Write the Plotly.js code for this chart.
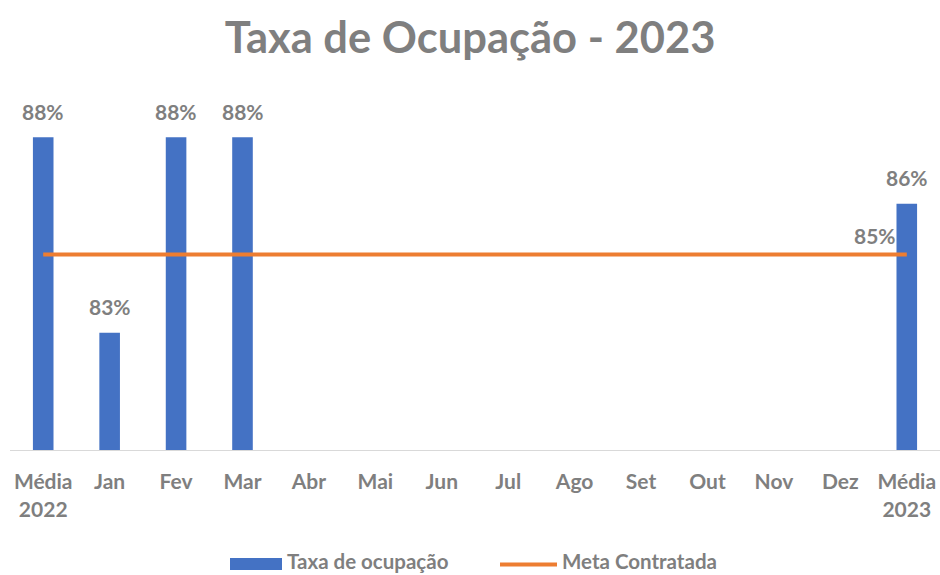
<!DOCTYPE html>
<html>
<head>
<meta charset="utf-8">
<script src="https://cdn.plot.ly/plotly-3.0.1.min.js"></script>
<style>html,body{margin:0;padding:0;background:#fff;}#chart{width:940px;height:575px;}</style>
</head>
<body>
<div id="chart"></div>
<script>
const categories = ['Média<br>2022','Jan','Fev','Mar','Abr','Mai','Jun','Jul','Ago','Set','Out','Nov','Dez','Média<br>2023'];
const taxaOcupacao = [88, 83, 88, 88, null, null, null, null, null, null, null, null, null, 86.3];
const metaContratada = [85, 85, 85, 85, 85, 85, 85, 85, 85, 85, 85, 85, 85, 85];
const seriesNames = ['Taxa de ocupação', 'Meta Contratada'];
const chartTitle = 'Taxa de Ocupação - 2023';

const FONT = 'Lato, "Open Sans", sans-serif';
const GRAY = '#7f7f7f';
const BLUE = '#4472C4';
const ORANGE = '#ED7D31';

// plot area geometry (px) used only to place the hand-drawn legend
const PL = 10, PW = 930, PT = 59, PH = 391;
const px2x = p => (p - PL) / PW;
const px2y = p => (PT + PH - p) / PH;

const annotations = [];
taxaOcupacao.forEach((v, i) => {
  if (v === null) return;
  annotations.push({
    x: categories[i], y: v, xref: 'x', yref: 'y',
    text: Math.round(v) + '%', showarrow: false,
    yanchor: 'middle', yshift: 26,
    font: {family: FONT, size: 21, color: GRAY, weight: 'bold'}
  });
});
const lastIdx = metaContratada.length - 1;
annotations.push({
  x: categories[lastIdx], y: metaContratada[lastIdx], xref: 'x', yref: 'y',
  text: metaContratada[lastIdx] + '%', showarrow: false,
  xanchor: 'right', xshift: -9, yanchor: 'middle', yshift: 19,
  font: {family: FONT, size: 21, color: GRAY, weight: 'bold'}
});
// legend labels
annotations.push({
  x: px2x(286), y: px2y(561), xref: 'paper', yref: 'paper',
  text: seriesNames[0], showarrow: false, xanchor: 'left', yanchor: 'middle',
  borderpad: 0,
  font: {family: FONT, size: 20.5, color: GRAY, weight: 'bold'}
});
annotations.push({
  x: px2x(561), y: px2y(561), xref: 'paper', yref: 'paper',
  text: seriesNames[1], showarrow: false, xanchor: 'left', yanchor: 'middle',
  borderpad: 0,
  font: {family: FONT, size: 20.5, color: GRAY, weight: 'bold'}
});

const shapes = [
  {type: 'rect', xref: 'paper', yref: 'paper',
   x0: px2x(230), x1: px2x(282), y0: px2y(570), y1: px2y(558),
   fillcolor: BLUE, line: {width: 0}},
  {type: 'line', xref: 'paper', yref: 'paper',
   x0: px2x(500), x1: px2x(557), y0: px2y(564.5), y1: px2y(564.5),
   line: {color: ORANGE, width: 4}}
];

const traces = [
  {
    type: 'bar', name: seriesNames[0], x: categories, y: taxaOcupacao,
    marker: {color: BLUE, line: {width: 0}},
    hoverinfo: 'x+y'
  },
  {
    type: 'scatter', mode: 'lines', name: seriesNames[1], x: categories, y: metaContratada,
    line: {color: ORANGE, width: 4}
  }
];

const layout = {
  width: 940, height: 575,
  margin: {l: PL, r: 940 - PL - PW, t: PT, b: 575 - PT - PH},
  paper_bgcolor: '#ffffff', plot_bgcolor: '#ffffff',
  bargap: 0.69,
  title: {
    text: chartTitle, x: 0.5, xref: 'container', xanchor: 'center',
    y: 1 - 38/575, yref: 'container', yanchor: 'middle',
    font: {family: FONT, size: 43.5, color: GRAY, weight: 'bold'}
  },
  xaxis: {
    type: 'category', showline: true, linecolor: '#d9d9d9', linewidth: 1,
    showgrid: false, zeroline: false, ticks: '', ticklabelstandoff: 13,
    tickfont: {family: FONT, size: 21, color: GRAY, weight: 'bold'},
    fixedrange: true
  },
  yaxis: {
    range: [80, 90], visible: false, showgrid: false, zeroline: false, fixedrange: true
  },
  showlegend: false,
  annotations: annotations,
  shapes: shapes
};

Plotly.newPlot('chart', traces, layout, {displayModeBar: false, staticPlot: true});
</script>
</body>
</html>
